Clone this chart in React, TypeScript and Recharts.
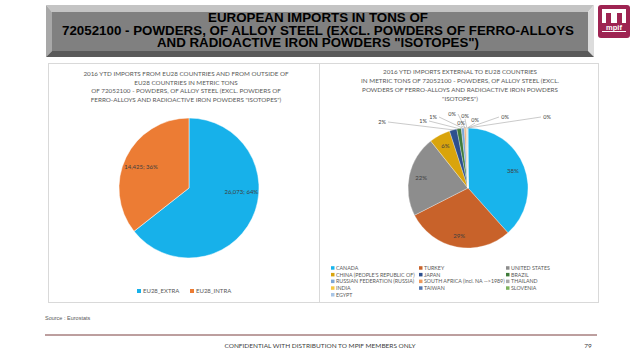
import { PieChart, Pie, Cell } from "recharts";

const LEFT_NAMES = ["EU28_EXTRA", "EU28_INTRA"];
const LEFT_TONS = [26073, 14425];
const LEFT_COLORS = ["#17b1ea", "#ec7c34"];

const COUNTRIES = [
  "CANADA",
  "TURKEY",
  "UNITED STATES",
  "CHINA (PEOPLE'S REPUBLIC OF)",
  "JAPAN",
  "BRAZIL",
  "RUSSIAN FEDERATION (RUSSIA)",
  "SOUTH AFRICA (incl. NA -->1989)",
  "THAILAND",
  "INDIA",
  "TAIWAN",
  "SLOVENIA",
  "EGYPT",
];
const COUNTRY_TONS = [10012, 7587, 5684, 1486, 521, 313, 209, 104, 52, 39, 26, 21, 13];
const COUNTRY_COLORS = [
  "#18b4ec", "#c8622a", "#8d8d8d", "#d9a40c", "#2d4f8e", "#3f7b3a", "#7da7d6",
  "#ef9a5b", "#a9a9a9", "#f5c842", "#5577b0", "#7cb35c", "#a8c5e6",
];

const BANNER_LINES = [
  "EUROPEAN IMPORTS IN TONS OF",
  "72052100 - POWDERS, OF ALLOY STEEL (EXCL. POWDERS OF FERRO-ALLOYS",
  "AND RADIOACTIVE IRON POWDERS \"ISOTOPES\")",
];
const LEFT_TITLE = [
  "2016 YTD IMPORTS FROM EU28 COUNTRIES AND FROM OUTSIDE OF",
  "EU28 COUNTRIES IN METRIC TONS",
  "OF 72052100 - POWDERS, OF ALLOY STEEL (EXCL. POWDERS OF",
  "FERRO-ALLOYS AND RADIOACTIVE IRON POWDERS \"ISOTOPES\")",
];
const RIGHT_TITLE = [
  "2016 YTD  IMPORTS EXTERNAL TO EU28 COUNTRIES",
  "IN METRIC TONS OF 72052100 - POWDERS, OF ALLOY STEEL (EXCL.",
  "POWDERS OF FERRO-ALLOYS AND RADIOACTIVE IRON POWDERS",
  "\"ISOTOPES\")",
];

const leftData = LEFT_NAMES.map((name, i) => ({ name, value: LEFT_TONS[i] }));
const rightData = COUNTRIES.map((name, i) => ({ name, value: COUNTRY_TONS[i] }));
const LEFT_TOTAL = LEFT_TONS.reduce((a, b) => a + b, 0);
const RIGHT_TOTAL = COUNTRY_TONS.reduce((a, b) => a + b, 0);

const FONT = "Lato, 'Open Sans', sans-serif";
const ARIAL = "'Liberation Sans', Arial, sans-serif";
const RAD = Math.PI / 180;

// banner text is a little wider than plain 12px arial bold
const BANNER_WIDTHS = [220, 512, 322];
// excel "best fit" nudges the label of the big slice a bit upwards
const LEFT_LABEL_SHIFT = [22, 2];
// where the leader-line labels of the tiny slices end up (relative to pie centre)
const SMALL_SPOTS = [
  [-86, -66], [-45, -67], [-35, -71], [-16, -74], [-7, -65],
  [-3, -72], [7, -68], [37, -71], [79, -71],
];

function leftLabel(props: any) {
  const { cx, cy, midAngle, outerRadius, index } = props;
  const a = (midAngle + LEFT_LABEL_SHIFT[index]) * RAD;
  const r = outerRadius * 0.75;
  const pct = Math.round((LEFT_TONS[index] / LEFT_TOTAL) * 100);
  return (
    <text
      x={cx + r * Math.cos(a)}
      y={cy - r * Math.sin(a)}
      textAnchor="middle"
      dominantBaseline="central"
      fontSize={6}
      fontFamily={FONT}
      fill="#404040"
    >
      {`${LEFT_TONS[index].toLocaleString("en-US")}; ${pct}%`}
    </text>
  );
}

function rightLabel(props: any) {
  const { cx, cy, midAngle, outerRadius, index } = props;
  const pct = `${Math.round((COUNTRY_TONS[index] / RIGHT_TOTAL) * 100)}%`;
  const a = midAngle * RAD;
  if (index < 4) {
    const r = outerRadius * 0.8;
    return (
      <text
        x={cx + r * Math.cos(a)}
        y={cy - r * Math.sin(a)}
        textAnchor="middle"
        dominantBaseline="central"
        fontSize={6}
        fontFamily={FONT}
        fill="#404040"
      >
        {pct}
      </text>
    );
  }
  const [dx, dy] = SMALL_SPOTS[index - 4];
  const lx = cx + dx;
  const ly = cy + dy;
  const px = cx + outerRadius * Math.cos(a);
  const py = cy - outerRadius * Math.sin(a);
  let ex = lx;
  let ey = ly + 3;
  if (Math.abs(lx - px) > 8) {
    ex = lx < px ? lx + 6 : lx - 6;
    ey = ly;
  }
  return (
    <g>
      <line x1={px} y1={py} x2={ex} y2={ey} stroke="#a6a6a6" strokeWidth={0.6} />
      <text
        x={lx}
        y={ly}
        textAnchor="middle"
        dominantBaseline="central"
        fontSize={5.5}
        fontFamily={FONT}
        fill="#404040"
      >
        {pct}
      </text>
    </g>
  );
}

function Logo() {
  return (
    <g>
      <rect x={598} y={5} width={32} height={33} rx={3} fill="#9e2452" />
      <rect x={602} y={9} width={24} height={14} fill="#ffffff" />
      <rect x={606} y={13} width={5} height={10} fill="#9e2452" />
      <rect x={617} y={13} width={5} height={10} fill="#9e2452" />
      <text x={614} y={30} textAnchor="middle" fontSize={7.5} fontWeight="bold" fontFamily={ARIAL} fill="#ffffff">
        mpif
      </text>
      <rect x={602} y={31} width={24} height={1} fill="#ffffff" />
    </g>
  );
}

export default function App() {
  const col = [333, 421, 508];
  return (
    <div style={{ position: "absolute", left: 0, top: 0, width: 638, height: 359, background: "#ffffff" }}>
      <svg width={638} height={359} style={{ position: "absolute", left: 0, top: 0 }}>
        {/* bevelled banner */}
        <polygon points="46,5 594,5 588,12 52,12" fill="#c4c4c4" />
        <polygon points="46,5 52,12 52,51 46,57" fill="#a8a8a8" />
        <polygon points="594,5 594,57 588,51 588,12" fill="#dcdcdc" />
        <polygon points="46,57 52,51 588,51 594,57" fill="#5a5a5a" />
        <rect x={52} y={12} width={536} height={39} fill="#808080" />
        {BANNER_LINES.map((t, i) => (
          <text
            key={i}
            x={318}
            y={22 + i * 12.5}
            textAnchor="middle"
            fontSize={12}
            fontWeight="bold"
            fontFamily={ARIAL}
            fill="#000000"
            textLength={BANNER_WIDTHS[i]}
            lengthAdjust="spacingAndGlyphs"
          >
            {t}
          </text>
        ))}
        <Logo />

        {/* panels */}
        <rect x={48.5} y={63.5} width={271} height={239} fill="none" stroke="#d9d9d9" />
        <rect x={319.5} y={63.5} width={279} height={239} fill="none" stroke="#d9d9d9" />

        {LEFT_TITLE.map((t, i) => (
          <text key={i} x={186} y={76 + i * 8.5} textAnchor="middle" fontSize={6.3} fontFamily={FONT} fill="#595959">
            {t}
          </text>
        ))}
        {RIGHT_TITLE.map((t, i) => (
          <text key={i} x={460} y={74 + i * 9} textAnchor="middle" fontSize={6.3} fontFamily={FONT} fill="#595959">
            {t}
          </text>
        ))}

        {/* left legend */}
        {LEFT_NAMES.map((n, i) => (
          <g key={n}>
            <rect x={137 + i * 53} y={289} width={4} height={4} fill={LEFT_COLORS[i]} />
            <text x={143 + i * 53} y={293} fontSize={6} fontFamily={FONT} fill="#595959">
              {n}
            </text>
          </g>
        ))}

        {/* right legend */}
        {COUNTRIES.map((n, i) => {
          const x = col[i % 3];
          const y = 268 + Math.floor(i / 3) * 6.7;
          return (
            <g key={n}>
              <rect x={x - 2} y={y - 1.8} width={3.5} height={3.5} fill={COUNTRY_COLORS[i]} />
              <text x={x + 3} y={y + 2} fontSize={5.3} fontFamily={FONT} fill="#595959">
                {n}
              </text>
            </g>
          );
        })}

        {/* footer */}
        <text x={45} y={320} fontSize={5.5} fontFamily={ARIAL} fill="#595959">
          Source : Eurostats
        </text>
        <line x1={45} y1={335} x2={597} y2={335} stroke="#7a3f3f" strokeWidth={1} />
        <text x={320} y={348} textAnchor="middle" fontSize={6.5} fontFamily={FONT} fill="#404040">
          CONFIDENTIAL WITH DISTRIBUTION TO MPIF MEMBERS ONLY
        </text>
        <text x={588} y={348} textAnchor="middle" fontSize={6.5} fontFamily={FONT} fill="#404040">
          79
        </text>
      </svg>

      <div style={{ position: "absolute", left: 48, top: 63 }}>
        <PieChart width={271} height={239}>
          <Pie
            data={leftData}
            dataKey="value"
            cx={136}
            cy={120}
            outerRadius={70}
            startAngle={90}
            endAngle={-270}
            stroke="#ffffff"
            strokeWidth={0.5}
            label={leftLabel}
            labelLine={false}
            isAnimationActive={false}
          >
            {leftData.map((_, idx) => (
              <Cell key={idx} fill={LEFT_COLORS[idx]} />
            ))}
          </Pie>
        </PieChart>
      </div>

      <div style={{ position: "absolute", left: 320, top: 63 }}>
        <PieChart width={279} height={239}>
          <Pie
            data={rightData}
            dataKey="value"
            cx={143}
            cy={120}
            outerRadius={60}
            startAngle={90}
            endAngle={-270}
            stroke="#ffffff"
            strokeWidth={0.3}
            label={rightLabel}
            labelLine={false}
            isAnimationActive={false}
          >
            {rightData.map((_, idx) => (
              <Cell key={idx} fill={COUNTRY_COLORS[idx]} />
            ))}
          </Pie>
        </PieChart>
      </div>
    </div>
  );
}
